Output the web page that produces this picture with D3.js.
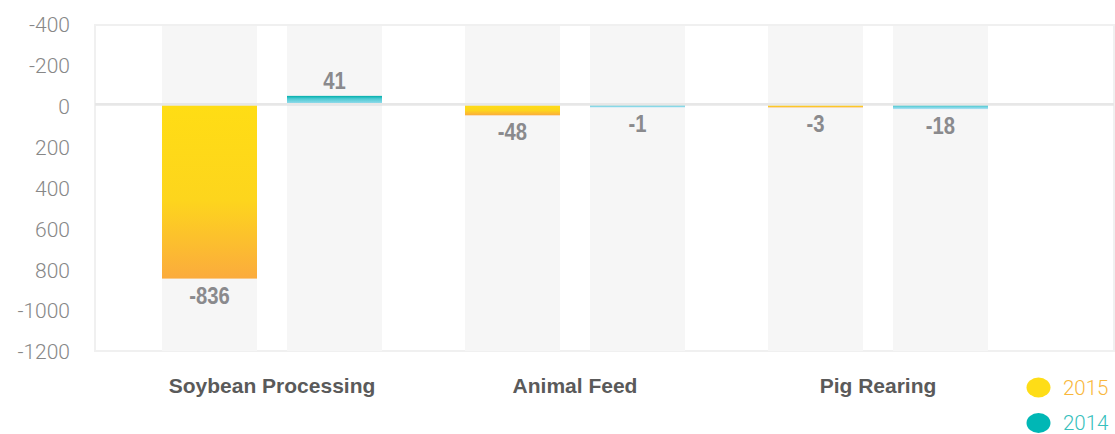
<!DOCTYPE html>
<html>
<head>
<meta charset="utf-8">
<script src="https://cdn.jsdelivr.net/npm/d3@7/dist/d3.min.js"></script>
<style>
  html, body { margin: 0; padding: 0; background: #fff; }
  svg { display: block; }
</style>
</head>
<body>
<svg id="chart" width="1115" height="434"></svg>
<script>
// ---- data ----
const categories = ["Soybean Processing", "Animal Feed", "Pig Rearing"];
const seriesNames = ["2015", "2014"];
const values2015 = [-836, -48, -3];
const values2014 = [41, -1, -18];
const tickValues = [400, 200, 0, -200, -400, -600, -800, -1000, -1200];
const tickLabels = ["-400", "-200", "0", "200", "400", "600", "800", "-1000", "-1200"];

const seriesValues = { "2015": values2015, "2014": values2014 };

const svg = d3.select("#chart");
const plot = { left: 95, right: 1114, top: 25, bottom: 351 };

const y = d3.scaleLinear().domain([400, -1200]).range([21.5, 353]);
const x = d3.scaleBand().domain(categories).range([120.5, 1029.5]).paddingInner(0).paddingOuter(0);
const xi = d3.scaleBand().domain(seriesNames).range([41.5, 261.5]).paddingInner(0.24).paddingOuter(0);

// gradients
const defs = svg.append("defs");
const g15 = defs.append("linearGradient").attr("id", "g2015").attr("x1", 0).attr("y1", 0).attr("x2", 0).attr("y2", 1);
g15.append("stop").attr("offset", "0%").attr("stop-color", "#ffdd14");
g15.append("stop").attr("offset", "55%").attr("stop-color", "#fdd51d");
g15.append("stop").attr("offset", "100%").attr("stop-color", "#fbab3d");
const g14 = defs.append("linearGradient").attr("id", "g2014").attr("x1", 0).attr("y1", 0).attr("x2", 0).attr("y2", 1);
g14.append("stop").attr("offset", "0%").attr("stop-color", "#00aeaa");
g14.append("stop").attr("offset", "30%").attr("stop-color", "#4ccad2");
g14.append("stop").attr("offset", "100%").attr("stop-color", "#b3e2f6");
const fills = { "2015": "url(#g2015)", "2014": "url(#g2014)" };

// frame
svg.append("rect")
  .attr("x", plot.left).attr("y", plot.top)
  .attr("width", plot.right - plot.left).attr("height", plot.bottom - plot.top)
  .attr("fill", "#ffffff").attr("stroke", "#f0f0f0").attr("stroke-width", 2);

// flatten
const rows = [];
categories.forEach((c, i) => {
  seriesNames.forEach(s => rows.push({ cat: c, series: s, value: seriesValues[s][i] }));
});

// background columns
svg.append("g").selectAll("rect").data(rows).join("rect")
  .attr("x", d => x(d.cat) + xi(d.series))
  .attr("y", plot.top + 1)
  .attr("width", xi.bandwidth())
  .attr("height", plot.bottom - plot.top - 1)
  .attr("fill", "#f6f6f6");

// bars
svg.append("g").selectAll("rect").data(rows).join("rect")
  .attr("x", d => x(d.cat) + xi(d.series))
  .attr("y", d => d.value >= 0 ? Math.min(y(d.value), y(0) - 2) : y(0))
  .attr("width", xi.bandwidth())
  .attr("height", d => Math.max(Math.abs(y(d.value) - y(0)), 2) + 1)
  .attr("fill", d => fills[d.series]);

// zero line
svg.append("line")
  .attr("x1", plot.left).attr("x2", plot.right)
  .attr("y1", y(0)).attr("y2", y(0))
  .attr("stroke", "#e7e7e7").attr("stroke-width", 2.6);

// value labels (condensed bold look)
svg.append("g").selectAll("text").data(rows).join("text")
  .attr("transform", d => {
    const cx = x(d.cat) + xi(d.series) + xi.bandwidth() / 2;
    const cy = d.value >= 0 ? y(d.value) - 7 : Math.max(y(d.value), y(0) + 2) + 26;
    return `translate(${cx},${cy}) scale(0.88,1)`;
  })
  .attr("text-anchor", "middle")
  .attr("font-family", "'Liberation Sans', Arial, sans-serif")
  .attr("font-weight", "bold")
  .attr("font-size", "23px")
  .attr("fill", "#8a8a8d")
  .text(d => d.value);

// y axis
const yAxis = d3.axisLeft(y).tickValues(tickValues).tickSize(0).tickPadding(0)
  .tickFormat((d, i) => tickLabels[i]);
const ya = svg.append("g").attr("transform", "translate(70,0)").call(yAxis);
ya.select(".domain").remove();
ya.selectAll("text")
  .attr("font-family", "Roboto, 'Liberation Sans', sans-serif")
  .attr("font-weight", 300)
  .attr("font-size", "21px")
  .attr("fill", "#878787")
  .attr("dy", "0.38em")
  .attr("transform", (d, i) => `translate(0,${2.5 - i * 0.6})`);

// x category labels
const xAxis = d3.axisBottom(x).tickSize(0).tickPadding(0);
const xa = svg.append("g").attr("transform", "translate(0,393)").call(xAxis);
xa.select(".domain").remove();
xa.selectAll("text")
  .attr("dy", 0).attr("y", 0)
  .attr("font-family", "'Liberation Sans', Arial, sans-serif")
  .attr("font-weight", "bold")
  .attr("font-size", "21px")
  .attr("fill", "#5a5a5a");

// legend
const legendColors = { "2015": "#fedd17", "2014": "#00b7b5" };
const legendText = { "2015": "#f9b73c", "2014": "#36c0bc" };
const legendY = d3.scalePoint().domain(seriesNames).range([387.5, 423]);
const lg = svg.append("g").selectAll("g").data(seriesNames).join("g")
  .attr("transform", s => `translate(0,${legendY(s)})`);
lg.append("ellipse").attr("cx", 1038.5).attr("cy", 0).attr("rx", 12).attr("ry", 10)
  .attr("fill", s => legendColors[s]);
lg.append("text").attr("x", 1063).attr("y", 7)
  .attr("font-family", "Roboto, 'Liberation Sans', sans-serif")
  .attr("font-weight", 300)
  .attr("font-size", "20.5px")
  .attr("fill", s => legendText[s])
  .text(s => s);
</script>
</body>
</html>
